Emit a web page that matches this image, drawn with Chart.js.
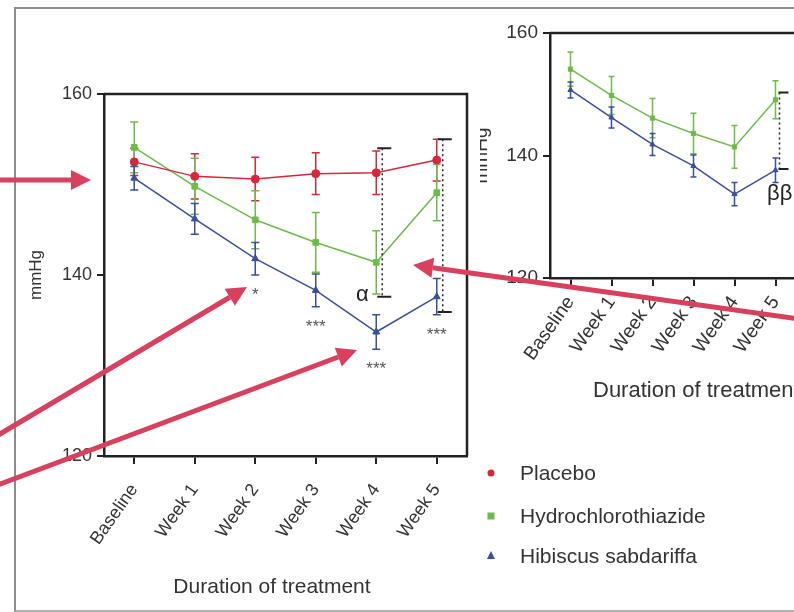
<!DOCTYPE html>
<html>
<head>
<meta charset="utf-8">
<script src="https://cdn.jsdelivr.net/npm/chart.js@4.4.0/dist/chart.umd.min.js"></script>
<style>
  html, body { margin: 0; padding: 0; background: #fff; width: 794px; height: 612px; overflow: hidden; }
  #frame { position: absolute; left: 14px; top: 7px; width: 800px; height: 601px;
           border-left: 2px solid #8c8c8c; border-top: 2px solid #8c8c8c; border-bottom: 2px solid #b0b0b0; }
  #mainChart { position: absolute; left: 0; top: 0; }
  #insetWrap { position: absolute; left: 480px; top: 0; width: 314px; height: 420px; overflow: hidden; }
  #insetChart { position: absolute; left: -12px; top: 0; }
  #arrows { position: absolute; left: 0; top: 0; pointer-events: none; }
</style>
</head>
<body>
<div id="frame"></div>
<canvas id="mainChart" width="794" height="612"></canvas>
<div id="insetWrap"><canvas id="insetChart" width="350" height="420"></canvas></div>
<canvas id="arrows" width="794" height="612"></canvas>

<script>
// values (mmHg, mean and error)
const weeks = ['Baseline', 'Week 1', 'Week 2', 'Week 3', 'Week 4', 'Week 5'];
const placebo = [152.5, 150.9, 150.6, 151.2, 151.3, 152.7];
const placeboErr = [1.5, 2.5, 2.4, 2.3, 2.4, 2.3];
const hctz = [154.1, 149.8, 146.1, 143.6, 141.4, 149.1];
const hctzErr = [2.8, 3.1, 3.2, 3.3, 3.5, 3.1];
const hibiscus = [150.7, 146.2, 141.8, 138.3, 133.7, 137.6];
const hibiscusErr = [1.3, 1.7, 1.8, 1.8, 1.9, 2.0];
const yTicks = [120, 140, 160];
const seriesNames = ['Placebo', 'Hydrochlorothiazide', 'Hibiscus sabdariffa'];
const stars = ['', '', '*', '***', '***', '***'];
// significance brackets: category index, top and bottom value
const mainBrackets = [[4, 154.0, 137.6], [5, 155.0, 135.9]];
const insetBrackets = [[5, 150.3, 137.8]];

const RED = '#d8263c';
const GREEN = '#6dbb4a';
const BLUE = '#3a4f9d';
const FONT = '"Liberation Sans", Arial, sans-serif';

// error bars drawn under the markers
const errorBars = {
  id: 'errorBars',
  beforeDatasetsDraw(chart, args, opts) {
    const ctx = chart.ctx;
    const x = chart.scales.x, y = chart.scales.y;
    chart.data.datasets.forEach(ds => {
      ctx.save();
      ctx.strokeStyle = ds.borderColor;
      ctx.lineWidth = 1.5;
      ds.data.forEach((v, i) => {
        const px = x.getPixelForValue(i);
        const t = y.getPixelForValue(v + ds.err[i]);
        const b = y.getPixelForValue(v - ds.err[i]);
        ctx.beginPath();
        ctx.moveTo(px, t); ctx.lineTo(px, b);
        ctx.moveTo(px - opts.cap, t); ctx.lineTo(px + opts.cap, t);
        ctx.moveTo(px - opts.cap, b); ctx.lineTo(px + opts.cap, b);
        ctx.stroke();
      });
      ctx.restore();
    });
  }
};

// closes the box on top and right side of the plot area
const boxFrame = {
  id: 'boxFrame',
  afterDraw(chart) {
    const {ctx, chartArea: a} = chart;
    ctx.save();
    ctx.strokeStyle = '#222';
    ctx.lineWidth = 2.5;
    ctx.beginPath();
    ctx.moveTo(a.left, a.top); ctx.lineTo(a.right, a.top); ctx.lineTo(a.right, a.bottom);
    ctx.stroke();
    ctx.restore();
  }
};

function drawBrackets(chart, list, dx, capL, capR) {
  const ctx = chart.ctx;
  const x = chart.scales.x, y = chart.scales.y;
  list.forEach(([i, top, bot]) => {
    const px = x.getPixelForValue(i) + dx;
    const t = y.getPixelForValue(top), b = y.getPixelForValue(bot);
    ctx.save();
    ctx.strokeStyle = '#222';
    ctx.lineWidth = 1.5;
    ctx.setLineDash([2, 3]);
    ctx.beginPath(); ctx.moveTo(px, t); ctx.lineTo(px, b); ctx.stroke();
    ctx.setLineDash([]);
    ctx.lineWidth = 2;
    ctx.beginPath();
    ctx.moveTo(px - capL, t); ctx.lineTo(px + capR, t);
    ctx.moveTo(px - capL, b); ctx.lineTo(px + capR, b);
    ctx.stroke();
    ctx.restore();
  });
}

const mainNotes = {
  id: 'mainNotes',
  afterDraw(chart) {
    const ctx = chart.ctx;
    const x = chart.scales.x, y = chart.scales.y;
    drawBrackets(chart, mainBrackets, 6, 5, 9);
    ctx.save();
    // stars under the hibiscus error bars
    ctx.fillStyle = '#555';
    ctx.font = '17px ' + FONT;
    ctx.textAlign = 'center';
    ctx.textBaseline = 'alphabetic';
    stars.forEach((s, i) => {
      if (!s) return;
      const px = x.getPixelForValue(i);
      const py = y.getPixelForValue(hibiscus[i] - hibiscusErr[i]) + 25;
      ctx.fillText(s, px, py);
    });
    ctx.fillStyle = '#222';
    ctx.font = '22px ' + FONT;
    ctx.fillText('α', x.getPixelForValue(4) - 14, y.getPixelForValue(137.1));
    // axis title
    ctx.fillStyle = '#333';
    ctx.font = '21px ' + FONT;
    ctx.fillText('Duration of treatment', 272, 593);
    // legend
    const colors = [RED, GREEN, BLUE];
    const ly = [473, 516, 556];
    ctx.textAlign = 'left';
    ctx.textBaseline = 'middle';
    seriesNames.forEach((n, k) => {
      const mx = 491, my = ly[k];
      ctx.fillStyle = colors[k];
      ctx.beginPath();
      if (k === 0) ctx.arc(mx, my, 3.5, 0, Math.PI * 2);
      else if (k === 1) ctx.rect(mx - 3.5, my - 3.5, 7, 7);
      else { ctx.moveTo(mx, my - 5); ctx.lineTo(mx + 4, my + 3); ctx.lineTo(mx - 4, my + 3); ctx.closePath(); }
      ctx.fill();
      ctx.fillStyle = '#333';
      ctx.font = '21px ' + FONT;
      ctx.fillText(n, 520, my + 1);
    });
    ctx.restore();
  }
};

const insetNotes = {
  id: 'insetNotes',
  afterDraw(chart) {
    const ctx = chart.ctx;
    drawBrackets(chart, insetBrackets, 4, 1, 9);
    ctx.save();
    ctx.fillStyle = '#222';
    ctx.font = '22px ' + FONT;
    ctx.textAlign = 'left';
    ctx.fillText('ββ', 299, 200);
    ctx.fillStyle = '#333';
    ctx.fillText('Duration of treatment', 125, 397);
    ctx.restore();
  }
};

function makeDatasets(list, size) {
  return list.map(([label, data, err, color, style]) => ({
    label: label, data: data, err: err,
    borderColor: color, backgroundColor: color,
    pointStyle: style, pointRadius: size, pointBorderWidth: 1,
    borderWidth: 1.5, tension: 0
  }));
}

function axes(tickFont, titleFont, yWidth, xHeight, rot, xPad) {
  return {
    x: {
      offset: true,
      grid: { offset: false, drawOnChartArea: false, drawTicks: true, tickLength: 8, color: '#222', lineWidth: 2 },
      border: { color: '#222', width: 2.5 },
      ticks: { font: { size: tickFont, family: FONT }, color: '#333', minRotation: rot, maxRotation: rot, padding: xPad, autoSkip: false },
      afterFit: s => { s.height = xHeight; }
    },
    y: {
      min: 120, max: 160,
      afterBuildTicks: s => { s.ticks = yTicks.map(v => ({ value: v })); },
      grid: { drawOnChartArea: false, drawTicks: true, tickLength: 7, color: '#222', lineWidth: 2 },
      border: { color: '#222', width: 2.5 },
      ticks: { font: { size: tickFont, family: FONT }, color: '#333', padding: 5 },
      title: { display: true, text: 'mmHg', font: { size: titleFont, family: FONT }, color: '#333', padding: 0 },
      afterFit: s => { s.width = yWidth; }
    }
  };
}

new Chart(document.getElementById('mainChart'), {
  type: 'line',
  data: {
    labels: weeks,
    datasets: makeDatasets([
      [seriesNames[0], placebo, placeboErr, RED, 'circle'],
      [seriesNames[1], hctz, hctzErr, GREEN, 'rect'],
      [seriesNames[2], hibiscus, hibiscusErr, BLUE, 'triangle']
    ], 4)
  },
  options: {
    responsive: false,
    animation: false,
    layout: { padding: { left: 26, top: 94, right: 327, bottom: 20 } },
    plugins: { legend: { display: false }, tooltip: { enabled: false }, errorBars: { cap: 4 } },
    scales: axes(18, 17, 78, 136, 55, 16)
  },
  plugins: [errorBars, boxFrame, mainNotes]
});

new Chart(document.getElementById('insetChart'), {
  type: 'line',
  data: {
    labels: weeks,
    datasets: makeDatasets([
      [seriesNames[1], hctz, hctzErr, GREEN, 'rect'],
      [seriesNames[2], hibiscus, hibiscusErr, BLUE, 'triangle']
    ], 3)
  },
  options: {
    responsive: false,
    animation: false,
    layout: { padding: { left: 2, top: 33, right: 22, bottom: 22 } },
    plugins: { legend: { display: false }, tooltip: { enabled: false }, errorBars: { cap: 3 } },
    scales: axes(19, 19, 80, 120, 55, 6)
  },
  plugins: [errorBars, boxFrame, insetNotes]
});

// pointer arrows laid over both panels
function arrow(ctx, x0, y0, x1, y1) {
  const ang = Math.atan2(y1 - y0, x1 - x0);
  const len = 20, half = 10;
  const bx = x1 - len * Math.cos(ang), by = y1 - len * Math.sin(ang);
  ctx.beginPath();
  ctx.moveTo(x0, y0); ctx.lineTo(bx, by);
  ctx.stroke();
  ctx.beginPath();
  ctx.moveTo(x1, y1);
  ctx.lineTo(bx + half * Math.sin(ang), by - half * Math.cos(ang));
  ctx.lineTo(bx - half * Math.sin(ang), by + half * Math.cos(ang));
  ctx.closePath();
  ctx.fill();
}
const actx = document.getElementById('arrows').getContext('2d');
actx.strokeStyle = '#d8405e';
actx.fillStyle = '#d8405e';
actx.lineWidth = 5;
arrow(actx, -5, 180, 91, 180);
arrow(actx, -5, 437, 247, 287);
arrow(actx, -5, 486, 357, 350);
arrow(actx, 800, 319, 413, 265);
</script>
</body>
</html>
